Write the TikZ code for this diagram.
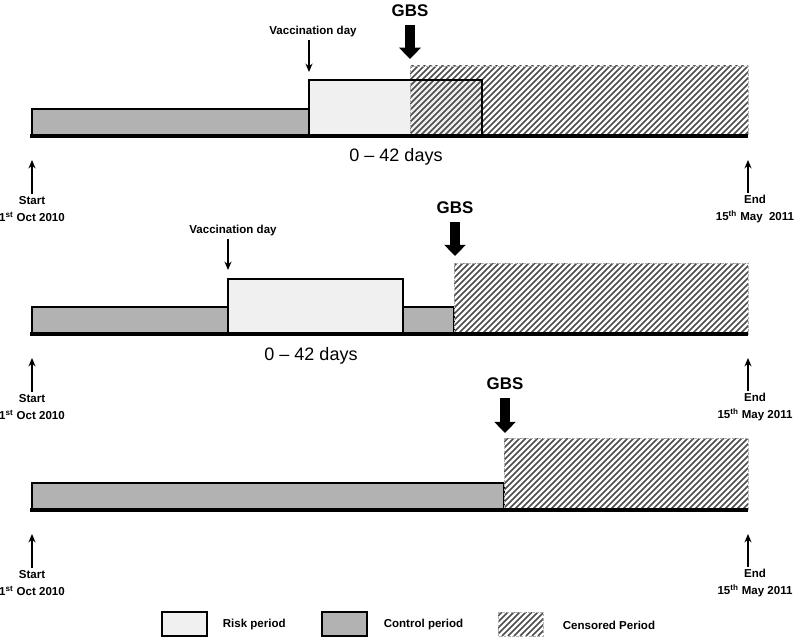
\documentclass[tikz,border=0pt]{standalone}
\usepackage{fontspec}
\setmainfont{Liberation Sans}
\usetikzlibrary{arrows.meta}
\definecolor{riskgray}{gray}{0.94}
\definecolor{ctrlgray}{gray}{0.70}
\definecolor{hatchgray}{gray}{0.30}
\tikzset{
	lab/.style={font=\fontsize{8.2}{11.5}\selectfont\bfseries, inner sep=0pt, outer sep=2pt, align=center},
	gbslab/.style={font=\fontsize{12}{14}\selectfont\bfseries, inner sep=0pt, outer sep=6pt},
	dayslab/.style={font=\fontsize{12.8}{14}\selectfont, inner sep=0pt},
	thinarrow/.style={-{Stealth[length=6pt,width=5pt]}, line width=0.8pt},
	gbsarrow/.style={-{Triangle[length=8pt,width=15pt]}, line width=7pt},
	control/.style={fill=ctrlgray, draw=black, line width=0.8pt},
	riskline/.style={draw=black, line width=2pt},
	stripe/.style={draw=hatchgray, line width=1.25pt},
	censorframe/.style={draw=gray!60, dash pattern=on 2pt off 1pt, line width=0.6pt},
	axis/.style={line width=2.2pt},
	legbox/.style={draw=black, line width=0.9pt, minimum width=1.125cm, minimum height=0.6cm, inner sep=0pt},
}
% hatched censored period: #1 left, #2 top, #3 right, #4 bottom
\def\censorbox#1#2#3#4{%
	\begin{scope}
		\clip (#1,#2) rectangle (#3,#4);
		\foreach \s in {0,6,...,420} \draw[stripe] ({#1-80+\s},#4) -- ++(80,-80);
	\end{scope}
	\draw[censorframe] (#1,#2) rectangle (#3,#4);
}
% start and end markers under a time line: #1 id, #2 baseline y, #3 year text
\def\datemarks#1#2#3{%
	\coordinate (stip#1) at (32,#2+24);
	\coordinate (etip#1) at (748,#2+24);
	\node[lab] (start#1) at (32,#2+73) {Start\\1\textsuperscript{st} Oct 2010};
	\node[lab] (end#1) at (755,#2+73) {End\\15\textsuperscript{th} May#3};
	\draw[thinarrow] (start#1.north) -- (stip#1);
	\draw[thinarrow] (end#1.north -| etip#1) -- (etip#1);
}

\begin{document}
\begin{tikzpicture}[x=0.025cm, y=-0.025cm]
		\useasboundingbox (0,0) rectangle (798,637);
		%%%%% TOP %%%%%
		
		\draw[control] (32,109) rectangle (309,136);
		\fill[riskgray] (309,80) rectangle (482,136);
		\censorbox{410}{66}{748}{136}
		\draw[riskline] (309,136) |- (482,80) -- (482,136);
		\draw[axis] (30,136) -- (748,136);
		
		\node[lab] (vac1) at (313,32) {Vaccination day};
		\coordinate (vtip1) at (309,72);
		\draw[thinarrow] (vac1.south -| vtip1) -- (vtip1);
		
		\node[gbslab] (gbs1) at (410,11) {GBS};
		\coordinate (gtip1) at (410,59);
		\draw[gbsarrow] (gbs1.south -| gtip1) -- (gtip1);
		
		\node[dayslab] (days1) at (396,157) {0 \textendash{} 42 days};
		\datemarks{1}{136}{\ \ 2011}
		
		%%%%% MIDDLE %%%%%
		
		\draw[control] (32,307) rectangle (228,334);
		\draw[control] (403,307) rectangle (454,334);
		\draw[riskline, fill=riskgray] (228,279) rectangle (403,334);
		\censorbox{454}{263}{748}{334}
		\draw[axis] (30,334) -- (748,334);
		
		\node[lab] (vac2) at (233,231) {Vaccination day};
		\coordinate (vtip2) at (228,270);
		\draw[thinarrow] (vac2.south -| vtip2) -- (vtip2);
		
		\node[gbslab] (gbs2) at (455,208) {GBS};
		\coordinate (gtip2) at (455,256);
		\draw[gbsarrow] (gbs2.south -| gtip2) -- (gtip2);
		
		\node[dayslab] (days2) at (311,356) {0 \textendash{} 42 days};
		\datemarks{2}{334}{ 2011}
		
		%%%%% BOTTOM %%%%%
		
		\draw[control] (32,483) rectangle (504,510);
		\draw[line width=2pt] (32,483) -- (32,510);
		\censorbox{504}{438}{748}{510}
		\draw[axis] (30,510) -- (748,510);
		
		\node[gbslab] (gbs3) at (505,384) {GBS};
		\coordinate (gtip3) at (505,433);
		\draw[gbsarrow] (gbs3.south -| gtip3) -- (gtip3);
		
		\datemarks{3}{510}{ 2011}
		
		%%%%% LEGEND %%%%%
		
		\node[legbox, fill=riskgray] (legrisk) at (184.5,624) {};
		\node[lab, anchor=west] (txtrisk) at (220,625) {Risk period};
		\node[legbox, fill=ctrlgray] (legctrl) at (344.5,624) {};
		\node[lab, anchor=west] (txtctrl) at (381,625) {Control period};
		\censorbox{498}{612}{543}{636}
		\node[lab, anchor=west] (txtcens) at (560,625) {Censored Period};
		
		%%%%% END %%%%%
\end{tikzpicture}
\end{document}
